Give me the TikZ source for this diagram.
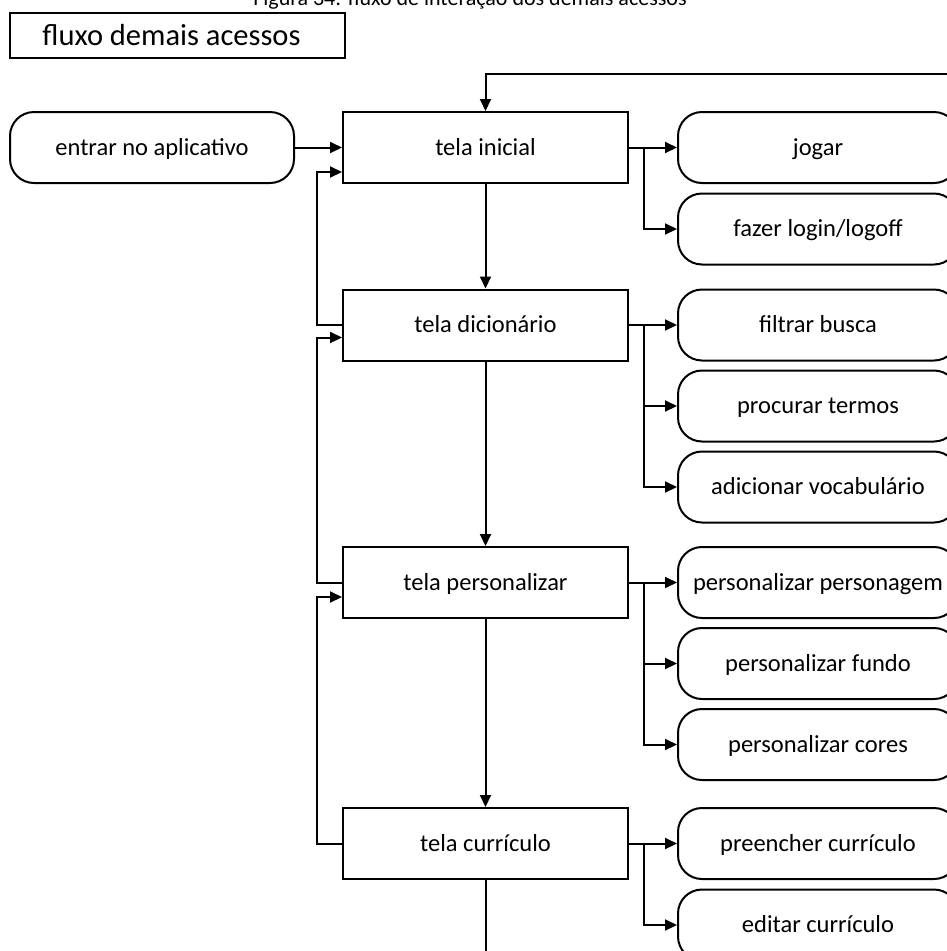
\documentclass[tikz,border=0pt]{standalone}
\usepackage{fontspec}
\setmainfont{Carlito}
\usetikzlibrary{arrows.meta}
\begin{document}
\begin{tikzpicture}[x=1pt,y=-1pt,
  every node/.style={font=\fontsize{24.5}{28}\selectfont, inner sep=0pt, text=black},
  lbl/.style={text height=19pt, text depth=4pt},
  screen/.style={draw, line width=2pt, minimum width=285pt, minimum height=71pt, lbl},
  act/.style={draw, line width=2pt, rounded corners=24pt, minimum width=280pt, minimum height=71pt, lbl},
  conn/.style={line width=2pt, -{Triangle[length=12pt,width=11pt]}},
  plain/.style={line width=2pt}]
\useasboundingbox (0,0) rectangle (947,951);
% caption (cut at top, as in the reference)
\node[anchor=base, font=\fontsize{22}{26}\selectfont] (cap) at (470,5) {Figura 34: fluxo de interação dos demais acessos};
% title box
\node[draw, line width=2pt, minimum width=335pt, minimum height=45pt] (title) at (177.5,35.5) {};
\node[font=\fontsize{30.5}{34}\selectfont, anchor=base] (titletext) at (171.5,45) {fluxo demais acessos};
% left entry
\node[draw, line width=2pt, rounded corners=24pt, minimum width=284pt, minimum height=71pt, lbl] (entrar) at (152,147.5) {entrar no aplicativo};
% screens
\node[screen] (inicial) at (485.5,147.5) {tela inicial};
\node[screen] (dic) at (485.5,325) {tela dicionário};
\node[screen] (pers) at (485.5,582.5) {tela personalizar};
\node[screen] (curr) at (485.5,843.5) {tela currículo};
% actions
\node[act] (jogar) at (818,147.5) {jogar};
\node[act] (login) at (818,229) {fazer login/logoff};
\node[act] (filtrar) at (818,325) {filtrar busca};
\node[act] (procurar) at (818,406) {procurar termos};
\node[act] (adicionar) at (818,487) {adicionar vocabulário};
\node[act] (ppers) at (818,582.5) {personalizar personagem};
\node[act] (pfundo) at (818,663.5) {personalizar fundo};
\node[act] (pcores) at (818,744.5) {personalizar cores};
\node[act] (preencher) at (818,843.5) {preencher currículo};
\node[act] (editar) at (818,925) {editar currículo};
% free ends
\coordinate (topend) at (960,74);
\coordinate (bottomend) at (485.5,965);
% main flow
\draw[conn] (entrar) -- (inicial);
\draw[conn] (topend) -| (inicial.north);
\draw[conn] (inicial) -- (dic);
\draw[conn] (dic) -- (pers);
\draw[conn] (pers) -- (curr);
\draw[plain] (curr.south) -- (bottomend);
% returns
\draw[conn] (dic.west) -- ++(-25,0) |- ([yshift=12pt]inicial.south west);
\draw[conn] (pers.west) -- ++(-25,0) |- ([yshift=24pt]dic.south west);
\draw[conn] (curr.west) -- ++(-25,0) |- ([yshift=22pt]pers.south west);
% branches
\draw[conn] (inicial.east) -- (jogar.west);
\draw[conn] ([xshift=15pt]inicial.east) |- (login.west);
\draw[conn] (dic.east) -- (filtrar.west);
\draw[conn] ([xshift=15pt]dic.east) |- (procurar.west);
\draw[conn] ([xshift=15pt]dic.east) |- (adicionar.west);
\draw[conn] (pers.east) -- (ppers.west);
\draw[conn] ([xshift=15pt]pers.east) |- (pfundo.west);
\draw[conn] ([xshift=15pt]pers.east) |- (pcores.west);
\draw[conn] (curr.east) -- (preencher.west);
\draw[conn] ([xshift=15pt]curr.east) |- (editar.west);
\end{tikzpicture}
\end{document}
